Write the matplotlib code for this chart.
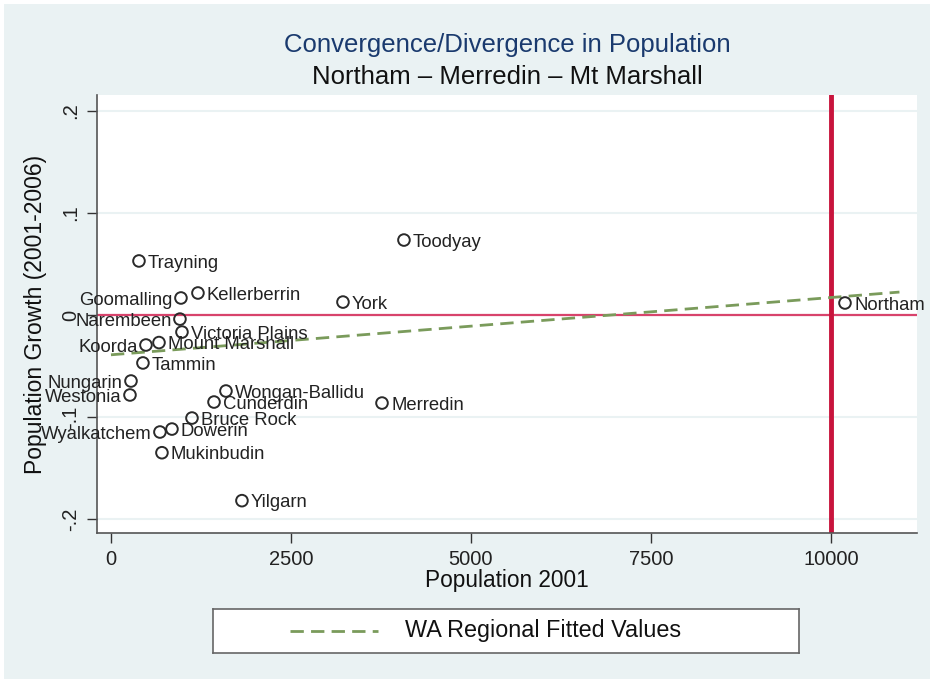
import matplotlib
matplotlib.use("Agg")
import matplotlib.pyplot as plt
from matplotlib.patches import Rectangle

plt.rcParams['font.family'] = ['Liberation Sans', 'DejaVu Sans']

# Shires: population in 2001 and growth 2001-2006
towns = ['Toodyay', 'Trayning', 'Kellerberrin', 'Goomalling', 'York', 'Northam',
         'Narembeen', 'Victoria Plains', 'Mount Marshall', 'Koorda', 'Tammin',
         'Nungarin', 'Westonia', 'Wongan-Ballidu', 'Cunderdin', 'Merredin',
         'Bruce Rock', 'Dowerin', 'Wyalkatchem', 'Mukinbudin', 'Yilgarn']
pop2001 = [4069, 389, 1208, 972, 3222, 10194,
           958, 986, 667, 486, 444,
           278, 264, 1597, 1431, 3764,
           1125, 847, 680, 708, 1819]
growth = [0.0735, 0.053, 0.0216, 0.0167, 0.0127, 0.0118,
          -0.004, -0.0167, -0.027, -0.0294, -0.047,
          -0.0647, -0.0784, -0.0745, -0.0853, -0.0863,
          -0.101, -0.1118, -0.1147, -0.135, -0.182]
left_labels = {'Goomalling', 'Narembeen', 'Koorda', 'Nungarin', 'Westonia', 'Wyalkatchem'}

# WA regional fitted line (endpoints)
fit_pop = [0, 10950]
fit_growth = [-0.039, 0.0225]

# reference lines
ref_pop = 10000
ref_growth = 0

xticks = [0, 2500, 5000, 7500, 10000]
yticks = [-0.2, -0.1, 0, 0.1, 0.2]
yticklabels = ['-.2', '-.1', '0', '.1', '.2']

bg = '#eaf2f3'
green = '#7a9b5b'
dash = (0, (4.8, 2.6))

fig = plt.figure(figsize=(9.34, 6.83), dpi=100, facecolor=bg)
# thin white frame round the graph region
fig.add_artist(Rectangle((0, 0), 1, 1, transform=fig.transFigure, fill=False,
                         edgecolor='white', linewidth=5.8, zorder=10))

ax = fig.add_axes([97 / 934, 1 - 533 / 683, 820 / 934, 438 / 683])
ax.set_facecolor('white')
ax.set_xlim(-194, 11194)
ax.set_ylim(-0.2137, 0.2157)

ax.set_yticks(yticks)
ax.set_yticklabels(yticklabels, rotation=90, va='center')
ax.set_xticks(xticks)
ax.tick_params(axis='both', length=7, width=1, color='#333333',
               labelsize=14.5, labelcolor='#222222', pad=5)
ax.yaxis.grid(True, color=bg, lw=1.5)
ax.set_axisbelow(True)
for s in ['top', 'right']:
    ax.spines[s].set_visible(False)
for s in ['left', 'bottom']:
    ax.spines[s].set_color('#555555')
    ax.spines[s].set_linewidth(1.2)

ax.axhline(ref_growth, color='#d8436c', lw=1.6, zorder=2)
ax.axvline(ref_pop, color='#c8143c', lw=3.5, zorder=2)

ax.plot(fit_pop, fit_growth, color=green, lw=2, ls=dash, zorder=3)

ax.scatter(pop2001, growth, s=70, facecolors='none', edgecolors='#2a2a2a',
           linewidths=1.4, zorder=4)
for name, x, y in zip(towns, pop2001, growth):
    if name in left_labels:
        ax.annotate(name, (x, y), xytext=(-6, -1.5), textcoords='offset points',
                    ha='right', va='center', fontsize=13.3, color='#222222', zorder=5)
    else:
        ax.annotate(name, (x, y), xytext=(6.5, -1.5), textcoords='offset points',
                    ha='left', va='center', fontsize=13.3, color='#222222', zorder=5)

ax.set_xlabel('Population 2001', fontsize=16.3, color='#111111', labelpad=0)
ax.set_ylabel('Population Growth (2001-2006)', fontsize=16.5, color='#111111',
              labelpad=10)

cx = (97 + 917) / 2 / 934
fig.text(cx, 1 - 45 / 683, 'Convergence/Divergence in Population', ha='center',
         va='center', fontsize=18.5, color='#1a3a6e')
fig.text(cx, 1 - 77 / 683, 'Northam \u2013 Merredin \u2013 Mt Marshall', ha='center',
         va='center', fontsize=18.5, color='#111111')

# legend box
leg = fig.add_axes([213 / 934, 1 - 653 / 683, 586 / 934, 44 / 683])
leg.set_xlim(0, 1)
leg.set_ylim(0, 1)
leg.set_xticks([])
leg.set_yticks([])
leg.set_facecolor('white')
for s in leg.spines.values():
    s.set_color('#666666')
    s.set_linewidth(1.2)
leg.plot([0.131, 0.282], [0.5, 0.5], color=green, lw=2, ls=dash)
leg.text(0.328, 0.5, 'WA Regional Fitted Values', ha='left', va='center',
         fontsize=16.8, color='#111111')

fig.savefig('out.png', dpi=100, facecolor=fig.get_facecolor())
